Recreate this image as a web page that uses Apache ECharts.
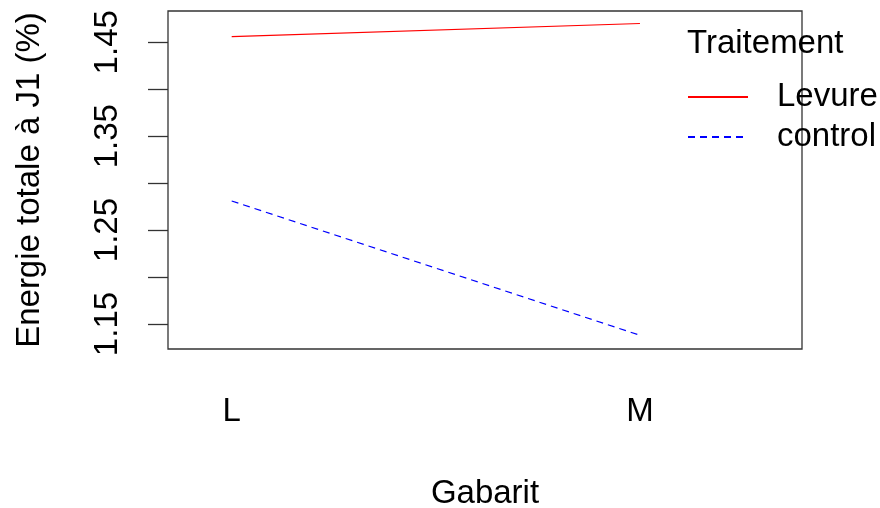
<!DOCTYPE html>
<html>
<head>
<meta charset="utf-8">
<script src="https://cdn.jsdelivr.net/npm/echarts@6/dist/echarts.min.js"></script>
<style>
  html, body { margin: 0; padding: 0; background: #fff; }
  #chart { width: 880px; height: 508px; }
</style>
</head>
<body>
<div id="chart"></div>
<script>
// Gabarit levels on the x axis
var gabarits = ['L', 'M'];
// mean total energy at J1 (%) per treatment
var levure = [1.456, 1.470];
var control = [1.281, 1.138];
var yTicks = [1.15, 1.20, 1.25, 1.30, 1.35, 1.40, 1.45];
var yLabels = [1.15, 1.25, 1.35, 1.45];

var font = '"Liberation Sans", Arial, sans-serif';
var fs = 33;
var chart = echarts.init(document.getElementById('chart'));

function toPoints(vals) {
    return vals.map(function(v, i) { return [i + 1, v]; });
}

var option = {
    animation: false,
    grid: {
        left: 168, top: 11, right: 78, bottom: 159,
        outerBoundsMode: 'none',
        show: true, borderColor: '#333', borderWidth: 1.3, backgroundColor: '#fff'
    },
    graphic: [{
        type: 'text', left: 687, top: 27,
        style: { text: 'Traitement', font: fs + 'px ' + font, fill: '#000' }
    }],
    legend: {
        orient: 'vertical', left: 689, top: 72,
        itemWidth: 60, itemHeight: 14, itemGap: 0,
        itemStyle: { opacity: 0 },
        textStyle: { fontFamily: font, fontSize: fs, color: '#000', lineHeight: 40, padding: [0, 0, 0, 17] },
        data: ['Levure', 'control']
    },
    xAxis: {
        type: 'value', min: 0.844, max: 2.397,
        name: 'Gabarit', nameLocation: 'middle', nameGap: 128,
        nameTextStyle: { fontFamily: font, fontSize: fs, color: '#000' },
        axisLine: { show: false }, axisTick: { show: false }, splitLine: { show: false },
        axisLabel: {
            customValues: [1, 2], margin: 46, fontFamily: font, fontSize: fs, color: '#000',
            formatter: function(v) { return gabarits[Math.round(v) - 1]; }
        }
    },
    yAxis: {
        type: 'value', min: 1.1234, max: 1.4833,
        name: 'Energie totale à J1 (%)', nameLocation: 'middle', nameGap: 122, nameRotate: 90,
        nameTextStyle: { fontFamily: font, fontSize: fs, color: '#000' },
        axisLine: { show: false }, splitLine: { show: false },
        axisTick: { customValues: yTicks, length: 20, lineStyle: { color: '#333', width: 1.3 } },
        axisLabel: {
            customValues: yLabels, rotate: 90, margin: 44, fontFamily: font, fontSize: fs, color: '#000',
            formatter: function(v) { return v.toFixed(2); }
        }
    },
    series: [
        {
            name: 'Levure', type: 'line', data: toPoints(levure),
            symbol: 'none', color: '#ff0000',
            lineStyle: { color: '#ff0000', width: 1.2, type: 'solid' }
        },
        {
            name: 'control', type: 'line', data: toPoints(control),
            symbol: 'none', color: '#0000ff',
            lineStyle: { color: '#0000ff', width: 1.2, type: [7, 5] }
        }
    ]
};
option.legend.left = 682;
option.legend.textStyle.padding = [0, 0, 0, 24];
chart.setOption(option);
</script>
</body>
</html>
